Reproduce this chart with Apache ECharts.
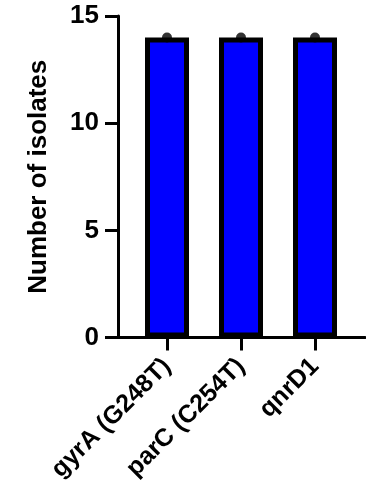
<!DOCTYPE html>
<html>
<head>
<meta charset="utf-8">
<style>html,body{margin:0;padding:0;background:#fff;}#c{width:366px;height:486px;}</style>
<script src="https://cdn.jsdelivr.net/npm/echarts@6/dist/echarts.min.js"></script>
</head>
<body>
<div id="c"></div>
<script>
const categories = ['gyrA (G248T)', 'parC (C254T)', 'qnrD1'];
const counts = [14, 14, 14];
const yTicks = {min: 0, max: 15, interval: 5};
const yTitle = 'Number of isolates';

const font = '"Liberation Sans", Arial, sans-serif';
const chart = echarts.init(document.getElementById('c'));
chart.setOption({
  animation: false,
  grid: [
    {left: 130, right: 14, top: 16, bottom: 148.5},
    {left: 118, right: 1, top: 16, bottom: 148.5}
  ],
  xAxis: [
    {
      type: 'category', gridIndex: 0, data: categories,
      axisLine: {show: true, lineStyle: {color: '#000', width: 3}},
      axisTick: {show: true, alignWithLabel: true, length: 13, lineStyle: {color: '#000', width: 3}},
      axisLabel: {rotate: 45, margin: 25, color: '#000', fontSize: 25, fontWeight: 'bold', fontFamily: font, interval: 0}
    },
    {
      type: 'value', gridIndex: 1, min: 0, max: 1,
      axisLine: {show: true, lineStyle: {color: '#000', width: 3}},
      axisTick: {show: false}, axisLabel: {show: false}, splitLine: {show: false}
    }
  ],
  yAxis: [
    {
      type: 'value', gridIndex: 0, min: yTicks.min, max: yTicks.max, interval: yTicks.interval,
      offset: 12,
      name: yTitle, nameLocation: 'middle', nameGap: 66,
      nameTextStyle: {color: '#000', fontSize: 26, fontWeight: 'bold', fontFamily: font},
      axisLine: {show: true, lineStyle: {color: '#000', width: 3}},
      axisTick: {show: true, length: 13, lineStyle: {color: '#000', width: 3}},
      axisLabel: {margin: 19, color: '#000', fontSize: 26, fontWeight: 'bold', fontFamily: font},
      splitLine: {show: false}
    },
    {
      type: 'value', gridIndex: 1, min: yTicks.min, max: yTicks.max, show: false
    }
  ],
  series: [
    {
      type: 'bar', xAxisIndex: 0, yAxisIndex: 0, data: counts, barWidth: 44,
      itemStyle: {color: '#0000FF', borderColor: '#000', borderWidth: 5}
    },
    {
      type: 'scatter', xAxisIndex: 0, yAxisIndex: 0, data: counts, symbol: 'circle', symbolSize: 10,
      itemStyle: {color: '#000'}, z: 3
    }
  ]
});
</script>
</body>
</html>
